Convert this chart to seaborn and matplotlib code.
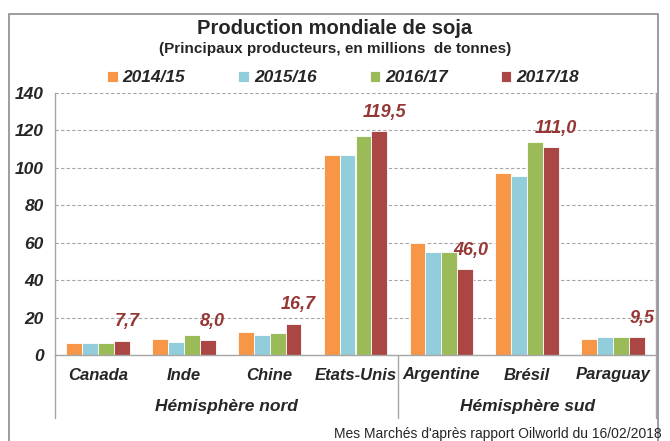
import pandas as pd
import numpy as np
import matplotlib
matplotlib.use("Agg")
import matplotlib.pyplot as plt
import matplotlib.transforms as mtransforms
from matplotlib.patches import Rectangle
import seaborn as sns

# ===============================
# Data
# ===============================

countries = ["Canada", "Inde", "Chine", "Etats-Unis", "Argentine", "Brésil", "Paraguay"]
seasons = ["2014/15", "2015/16", "2016/17", "2017/18"]

v_2014 = [6.2, 8.8, 12.1, 106.9, 60.0, 97.0, 8.8]
v_2015 = [6.5, 7.2, 10.9, 106.9, 55.0, 95.5, 9.4]
v_2016 = [6.5, 10.5, 11.8, 117.2, 55.0, 114.0, 9.8]
v_2017 = [7.7, 8.0, 16.7, 119.5, 46.0, 111.0, 9.5]

hemispheres = ["Hémisphère nord", "Hémisphère sud"]
hemi_groups = [[0, 1, 2, 3], [4, 5, 6]]

colors = ["#F79646", "#92CDDC", "#9BBB59", "#AA4643"]
label_color = "#953735"

df = pd.DataFrame({
    "Pays": countries * 4,
    "Campagne": [s for s in seasons for _ in countries],
    "Production": v_2014 + v_2015 + v_2016 + v_2017,
})

# ===============================
# Figure
# ===============================

sns.set_style("white")
plt.rcParams["font.family"] = ["Liberation Sans", "DejaVu Sans"]

fig = plt.figure(figsize=(6.7, 4.41), dpi=100)
ax = fig.add_axes([55/670, 86/441, 601/670, 262/441])

sns.barplot(
    data=df, x="Pays", y="Production", hue="Campagne",
    palette=colors, saturation=1, width=0.74, gap=0.0, ax=ax,
    edgecolor="white", linewidth=0.6, legend=True
)

ax.set_ylim(0, 140)
ax.set_yticks(range(0, 141, 20))
ax.set_xlim(-0.5, 6.5)
ax.set_xlabel("")
ax.set_ylabel("")

for lab in ax.get_yticklabels():
    lab.set_fontweight("bold")
    lab.set_fontstyle("italic")
    lab.set_fontsize(12.5)
ax.set_xticks(range(len(countries)))
ax.set_xticklabels(countries, fontsize=12, fontweight="bold", fontstyle="italic")
ax.tick_params(axis="x", length=0, pad=9)
ax.tick_params(axis="y", length=6, width=0.8, color="#999999", pad=2)

ax.yaxis.grid(True, linestyle=(0, (3, 2)), color="#A6A6A6", linewidth=0.8)
ax.set_axisbelow(True)

for side in ["left", "bottom", "right"]:
    ax.spines[side].set_color("#A6A6A6")
    ax.spines[side].set_linewidth(1.0)
ax.spines["top"].set_visible(False)

# data labels for 2017/18
red_bars = ax.containers[3]
for bar, v in zip(red_bars, v_2017):
    ax.text(bar.get_x() + bar.get_width()/2 + 0.06, v + 5.5,
            f"{v:.1f}".replace(".", ","),
            ha="center", va="bottom", color=label_color,
            fontsize=13, fontweight="bold", fontstyle="italic")

# category separators and hemisphere labels
trans = mtransforms.blended_transform_factory(ax.transData, ax.transAxes)
for xs in [-0.5, 3.5, 6.5]:
    ax.plot([xs, xs], [0, -0.24], transform=trans, color="#A6A6A6",
            linewidth=1.0, clip_on=False)
for name, grp in zip(hemispheres, hemi_groups):
    ax.text(np.mean(grp), -0.195, name, transform=trans, ha="center", va="center",
            fontsize=12.5, fontweight="bold", fontstyle="italic")

# legend
ax.legend(
    loc="center", ncol=4, frameon=False, handlelength=0.6, handleheight=0.6,
    handletextpad=0.3, columnspacing=3.05,
    prop={"weight": "bold", "style": "italic", "size": 12.5}
)
leg = ax.get_legend()
leg.set_bbox_to_anchor((0.512, 1 - 78/441), transform=fig.transFigure)

# titles
fig.text(0.5, 1 - 28/441, "Production mondiale de soja", ha="center", va="center",
         fontsize=14.5, fontweight="bold")
fig.text(0.5, 1 - 49/441, "(Principaux producteurs, en millions  de tonnes)",
         ha="center", va="center", fontsize=11, fontweight="bold")

# source
fig.text(662/670, 1 - 427/441, "Mes Marchés d'après rapport Oilworld du 16/02/2018",
         ha="right", va="top", fontsize=10)

# outer frame
fig.patches.append(Rectangle((9/670, -0.05), 649/670, 1.05 - 14/441,
                             transform=fig.transFigure, fill=False,
                             edgecolor="#8C8C8C", linewidth=1.2))

plt.savefig("out.png", dpi=100)
